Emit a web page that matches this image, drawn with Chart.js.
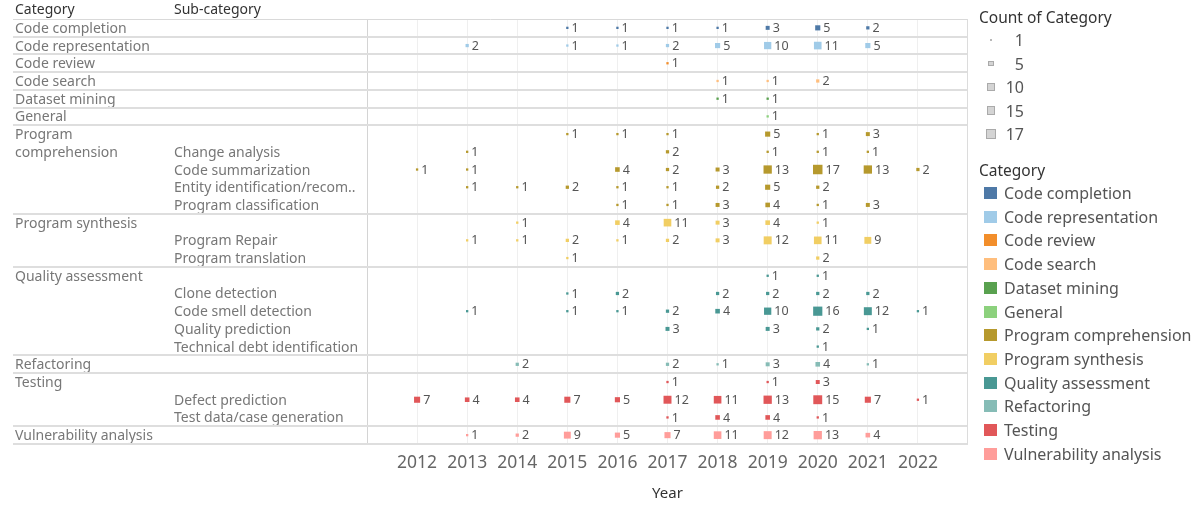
<!DOCTYPE html>
<html><head><meta charset="utf-8">
<script src="https://cdn.jsdelivr.net/npm/chart.js@4"></script>
<style>
html,body{margin:0;padding:0;background:#fff;}
#wrap{position:relative;width:1201px;height:506px;overflow:hidden;}
#c{position:absolute;left:0;top:0;}
#legend{position:absolute;left:0;top:0;width:1201px;height:506px;font-family:"Noto Sans",sans-serif;pointer-events:none;}
.lt{position:absolute;left:979px;font-size:15.5px;color:#333;line-height:20px;white-space:nowrap;}
.li{position:absolute;font-size:16px;color:#555;line-height:20px;white-space:nowrap;}
.sw{position:absolute;}
</style></head>
<body>
<div id="wrap"><canvas id="c" width="1201" height="506"></canvas><div id="legend"></div></div>
<script>
const years = [2012, 2013, 2014, 2015, 2016, 2017, 2018, 2019, 2020, 2021, 2022];

const categories = ['Code completion', 'Code representation', 'Code review', 'Code search', 'Dataset mining', 'General',
  'Program comprehension', 'Program synthesis', 'Quality assessment', 'Refactoring', 'Testing', 'Vulnerability analysis'];
const categoryColors = ['#4e79a7', '#a0cbe8', '#f28e2b', '#ffbe7d', '#59a14f', '#8cd17d',
  '#b6992d', '#f1ce63', '#499894', '#86bcb6', '#e15759', '#ff9d9a'];

const categoryColumnLabels = ['Code completion', 'Code representation', 'Code review', 'Code search', 'Dataset mining', 'General',
  'Program', 'comprehension', '', '', '', 'Program synthesis', '', '', 'Quality assessment', '', '', '', '',
  'Refactoring', 'Testing', '', '', 'Vulnerability analysis'];
const subCategoryLabels = ['', '', '', '', '', '', '', 'Change analysis', 'Code summarization', 'Entity identification/recom..',
  'Program classification', '', 'Program Repair', 'Program translation', '', 'Clone detection', 'Code smell detection',
  'Quality prediction', 'Technical debt identification', '', '', 'Defect prediction', 'Test data/case generation', ''];
const rowCategoryIndex = [0, 1, 2, 3, 4, 5, 6, 6, 6, 6, 6, 7, 7, 7, 8, 8, 8, 8, 8, 9, 10, 10, 10, 11];

// counts per row, one value per year (null = no paper)
const rowCodeCompletion        = [null, null, null, 1, 1, 1, 1, 3, 5, 2, null];
const rowCodeRepresentation    = [null, 2, null, 1, 1, 2, 5, 10, 11, 5, null];
const rowCodeReview            = [null, null, null, null, null, 1, null, null, null, null, null];
const rowCodeSearch            = [null, null, null, null, null, null, 1, 1, 2, null, null];
const rowDatasetMining         = [null, null, null, null, null, null, 1, 1, null, null, null];
const rowGeneral               = [null, null, null, null, null, null, null, 1, null, null, null];
const rowProgramComprehension  = [null, null, null, 1, 1, 1, null, 5, 1, 3, null];
const rowChangeAnalysis        = [null, 1, null, null, null, 2, null, 1, 1, 1, null];
const rowCodeSummarization     = [1, 1, null, null, 4, 2, 3, 13, 17, 13, 2];
const rowEntityIdentification  = [null, 1, 1, 2, 1, 1, 2, 5, 2, null, null];
const rowProgramClassification = [null, null, null, null, 1, 1, 3, 4, 1, 3, null];
const rowProgramSynthesis      = [null, null, 1, null, 4, 11, 3, 4, 1, null, null];
const rowProgramRepair         = [null, 1, 1, 2, 1, 2, 3, 12, 11, 9, null];
const rowProgramTranslation    = [null, null, null, 1, null, null, null, null, 2, null, null];
const rowQualityAssessment     = [null, null, null, null, null, null, null, 1, 1, null, null];
const rowCloneDetection        = [null, null, null, 1, 2, null, 2, 2, 2, 2, null];
const rowCodeSmellDetection    = [null, 1, null, 1, 1, 2, 4, 10, 16, 12, 1];
const rowQualityPrediction     = [null, null, null, null, null, 3, null, 3, 2, 1, null];
const rowTechnicalDebt         = [null, null, null, null, null, null, null, null, 1, null, null];
const rowRefactoring           = [null, null, 2, null, null, 2, 1, 3, 4, 1, null];
const rowTesting               = [null, null, null, null, null, 1, null, 1, 3, null, null];
const rowDefectPrediction      = [7, 4, 4, 7, 5, 12, 11, 13, 15, 7, 1];
const rowTestDataGeneration    = [null, null, null, null, null, 1, 4, 4, 1, null, null];
const rowVulnerabilityAnalysis = [null, 1, 2, 9, 5, 7, 11, 12, 13, 4, null];

const rowValues = [rowCodeCompletion, rowCodeRepresentation, rowCodeReview, rowCodeSearch, rowDatasetMining, rowGeneral,
  rowProgramComprehension, rowChangeAnalysis, rowCodeSummarization, rowEntityIdentification, rowProgramClassification,
  rowProgramSynthesis, rowProgramRepair, rowProgramTranslation, rowQualityAssessment, rowCloneDetection,
  rowCodeSmellDetection, rowQualityPrediction, rowTechnicalDebt, rowRefactoring, rowTesting, rowDefectPrediction,
  rowTestDataGeneration, rowVulnerabilityAnalysis];

const sizeLegendValues = [1, 5, 10, 15, 17];

const FONT = '"Noto Sans", sans-serif';
Chart.defaults.font.family = FONT;

function sideFor(count) { return 2.3 * Math.sqrt(count); }

const datasets = categories.map((name, c) => {
  const data = [];
  rowValues.forEach((vals, r) => {
    if (rowCategoryIndex[r] !== c) return;
    vals.forEach((v, j) => { if (v != null) data.push({ x: years[j], y: r, count: v }); });
  });
  return {
    label: name, data, xAxisID: 'x', yAxisID: 'y', backgroundColor: categoryColors[c], borderWidth: 0,
    pointStyle: 'rect', pointBorderWidth: 0,
    pointRadius: ctx => sideFor(ctx.raw.count) / Math.SQRT2,
    pointHoverRadius: ctx => sideFor(ctx.raw.count) / Math.SQRT2
  };
});

// category group boundaries (between rows)
const groupBoundaries = [];
for (let r = 1; r < rowCategoryIndex.length; r++) {
  if (rowCategoryIndex[r] !== rowCategoryIndex[r - 1]) groupBoundaries.push(r - 0.5);
}

const framePlugin = {
  id: 'frame',
  beforeDatasetsDraw(chart) {
    const { ctx, chartArea } = chart;
    const ys = chart.scales.y;
    ctx.save();
    ctx.strokeStyle = '#d9d9d9';
    ctx.lineWidth = 1;
    const yt = Math.round(ys.getPixelForValue(-0.5)) + 0.5;
    ctx.beginPath(); ctx.moveTo(13, yt); ctx.lineTo(chartArea.right, yt); ctx.stroke();
    ctx.lineWidth = 2;
    ctx.strokeStyle = '#dedede';
    groupBoundaries.concat([rowCategoryIndex.length - 0.5]).forEach(b => {
      const y = Math.round(ys.getPixelForValue(b));
      ctx.beginPath(); ctx.moveTo(13, y); ctx.lineTo(chartArea.right, y); ctx.stroke();
    });
    ctx.lineWidth = 1;
    ctx.strokeStyle = '#dcdcdc';
    const xr = Math.round(chartArea.right) - 0.5;
    ctx.beginPath(); ctx.moveTo(xr, chartArea.top); ctx.lineTo(xr, chartArea.bottom); ctx.stroke();
    ctx.fillStyle = '#333';
    ctx.font = '14px ' + FONT;
    ctx.textBaseline = 'middle';
    ctx.textAlign = 'left';
    ctx.fillText('Category', chart.scales.yCat.left, 10);
    ctx.fillText('Sub-category', chart.scales.y.left, 10);
    ctx.restore();
  },
  afterDatasetsDraw(chart) {
    const { ctx } = chart;
    ctx.save();
    ctx.font = '12.5px ' + FONT;
    ctx.fillStyle = '#555';
    ctx.textBaseline = 'middle';
    ctx.textAlign = 'left';
    chart.data.datasets.forEach((ds, i) => {
      const meta = chart.getDatasetMeta(i);
      meta.data.forEach((el, k) => {
        const cnt = ds.data[k].count;
        ctx.fillText(String(cnt), el.x + sideFor(cnt) / 2 + 3, el.y + 0.5);
      });
    });
    ctx.restore();
  }
};

new Chart(document.getElementById('c'), {
  type: 'scatter',
  data: { datasets },
  options: {
    responsive: false,
    animation: false,
    events: [],
    layout: { padding: { left: 15, top: 19, right: 233, bottom: 0 } },
    plugins: { legend: { display: false }, tooltip: { enabled: false } },
    scales: {
      x: {
        type: 'linear', position: 'bottom', min: 2011, max: 2023,
        afterBuildTicks: s => { s.ticks = years.map(v => ({ value: v })); },
        afterFit: s => { s.height = 62; },
        grid: { color: '#efefef', lineWidth: 1, drawTicks: false },
        border: { display: false },
        ticks: { callback: v => String(v), font: { size: 17.5 }, color: '#666', padding: 9, maxRotation: 0, autoSkip: false },
        title: { display: true, text: 'Year', font: { size: 15 }, color: '#333', padding: { top: 0, bottom: 3 } }
      },
      y: {
        type: 'linear', position: 'left', reverse: true, min: -0.5, max: 23.5, weight: 0,
        afterBuildTicks: s => { s.ticks = subCategoryLabels.map((_, i) => ({ value: i })); },
        afterFit: s => { s.width = 193; },
        ticks: { callback: v => subCategoryLabels[v] ?? '', crossAlign: 'far', labelOffset: 1, font: { size: 14 }, color: '#777', padding: 0, autoSkip: false },
        grid: { display: false, drawTicks: false },
        border: { display: true, color: '#d4d4d4', width: 1 }
      },
      yCat: {
        type: 'linear', position: 'left', reverse: true, min: -0.5, max: 23.5, weight: 1,
        afterBuildTicks: s => { s.ticks = categoryColumnLabels.map((_, i) => ({ value: i })); },
        afterFit: s => { s.width = 159; },
        ticks: { callback: v => categoryColumnLabels[v] ?? '', crossAlign: 'far', labelOffset: 1, font: { size: 14 }, color: '#777', padding: 0, autoSkip: false },
        grid: { display: false, drawTicks: false },
        border: { display: false }
      }
    }
  },
  plugins: [framePlugin]
});

// HTML legends
const lg = document.getElementById('legend');
function add(el) { lg.appendChild(el); return el; }
const t1 = document.createElement('div'); t1.className = 'lt'; t1.style.top = '7px'; t1.textContent = 'Count of Category'; add(t1);
sizeLegendValues.forEach((v, i) => {
  const cy = 40 + i * 23.5;
  const s = sideFor(v);
  const sq = document.createElement('div'); sq.className = 'sw';
  sq.style.cssText = `left:${991 - s / 2}px;top:${cy - s / 2}px;width:${s}px;height:${s}px;background:#d4d4d4;box-sizing:border-box;border:${v > 1 ? 1 : 0}px solid #aaa;` + (v === 1 ? 'background:#b8b8b8;' : '');
  add(sq);
  const tx = document.createElement('div'); tx.className = 'li';
  tx.style.cssText = `right:${1201 - 1024}px;top:${cy - 10}px;text-align:right;`;
  tx.textContent = String(v); add(tx);
});
const t2 = document.createElement('div'); t2.className = 'lt'; t2.style.top = '160px'; t2.textContent = 'Category'; add(t2);
categories.forEach((name, i) => {
  const cy = 193 + i * 23.7;
  const sq = document.createElement('div'); sq.className = 'sw';
  sq.style.cssText = `left:984px;top:${cy - 6}px;width:13px;height:12px;background:${categoryColors[i]};`;
  add(sq);
  const tx = document.createElement('div'); tx.className = 'li';
  tx.style.cssText = `left:1004px;top:${cy - 10}px;`;
  tx.textContent = name; add(tx);
});
</script>
</body></html>
